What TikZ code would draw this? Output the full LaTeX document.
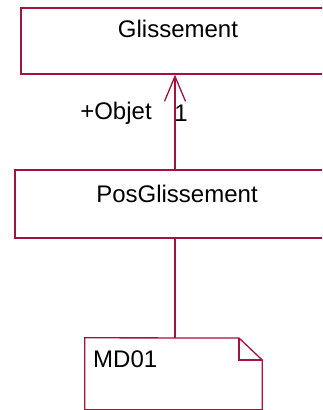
\documentclass[tikz,border=0pt]{standalone}
\usepackage{fontspec}
\setmainfont{Liberation Sans}
\usetikzlibrary{arrows.meta}
\definecolor{umlred}{RGB}{165,18,62}
\begin{document}
\begin{tikzpicture}[x=1pt,y=-1pt,
  box/.style={draw=umlred,line width=1.3pt,rectangle,inner sep=0pt},
  lbl/.style={font=\fontsize{24}{28}\selectfont,inner sep=0pt,anchor=center},
  conn/.style={draw=umlred,line width=1.3pt},
  assoc/.style={conn,-{Straight Barb[length=25pt,width=21pt,line width=1.3pt]}}]
\useasboundingbox (0,0) rectangle (322,410);
\clip (0,0) rectangle (322,410);
% classes
\node[box,minimum width=314pt,minimum height=66pt] (g) at (178,41) {};
\node[lbl] (gt) at (178,29) {Glissement};
\node[box,minimum width=326pt,minimum height=68pt] (pg) at (178,204) {};
\node[lbl] (pgt) at (177,194) {PosGlissement};
% note
\node[inner sep=0pt,minimum width=177pt,minimum height=71.5pt] (note) at (173.5,373.75) {};
\draw[conn] (note.north west) -- (239,338) coordinate (f1) -- (note.north east |- 0,360) coordinate (f2) -- (note.south east) -- (note.south west) -- cycle;
\draw[conn] (f1) -- (239,360) -- (f2);
\node[lbl,anchor=west] (nt) at (93,359) {MD01};
% connectors
\coordinate (ax) at (175,0);
\draw[assoc] (pg.north -| ax) -- (g.south -| ax);
\draw[conn] (pg.south -| ax) -- (note.north -| ax);
\node[lbl] (role) at (116,113) {+Objet};
\node[lbl] (mult) at (181,113) {1};
\end{tikzpicture}
\end{document}
